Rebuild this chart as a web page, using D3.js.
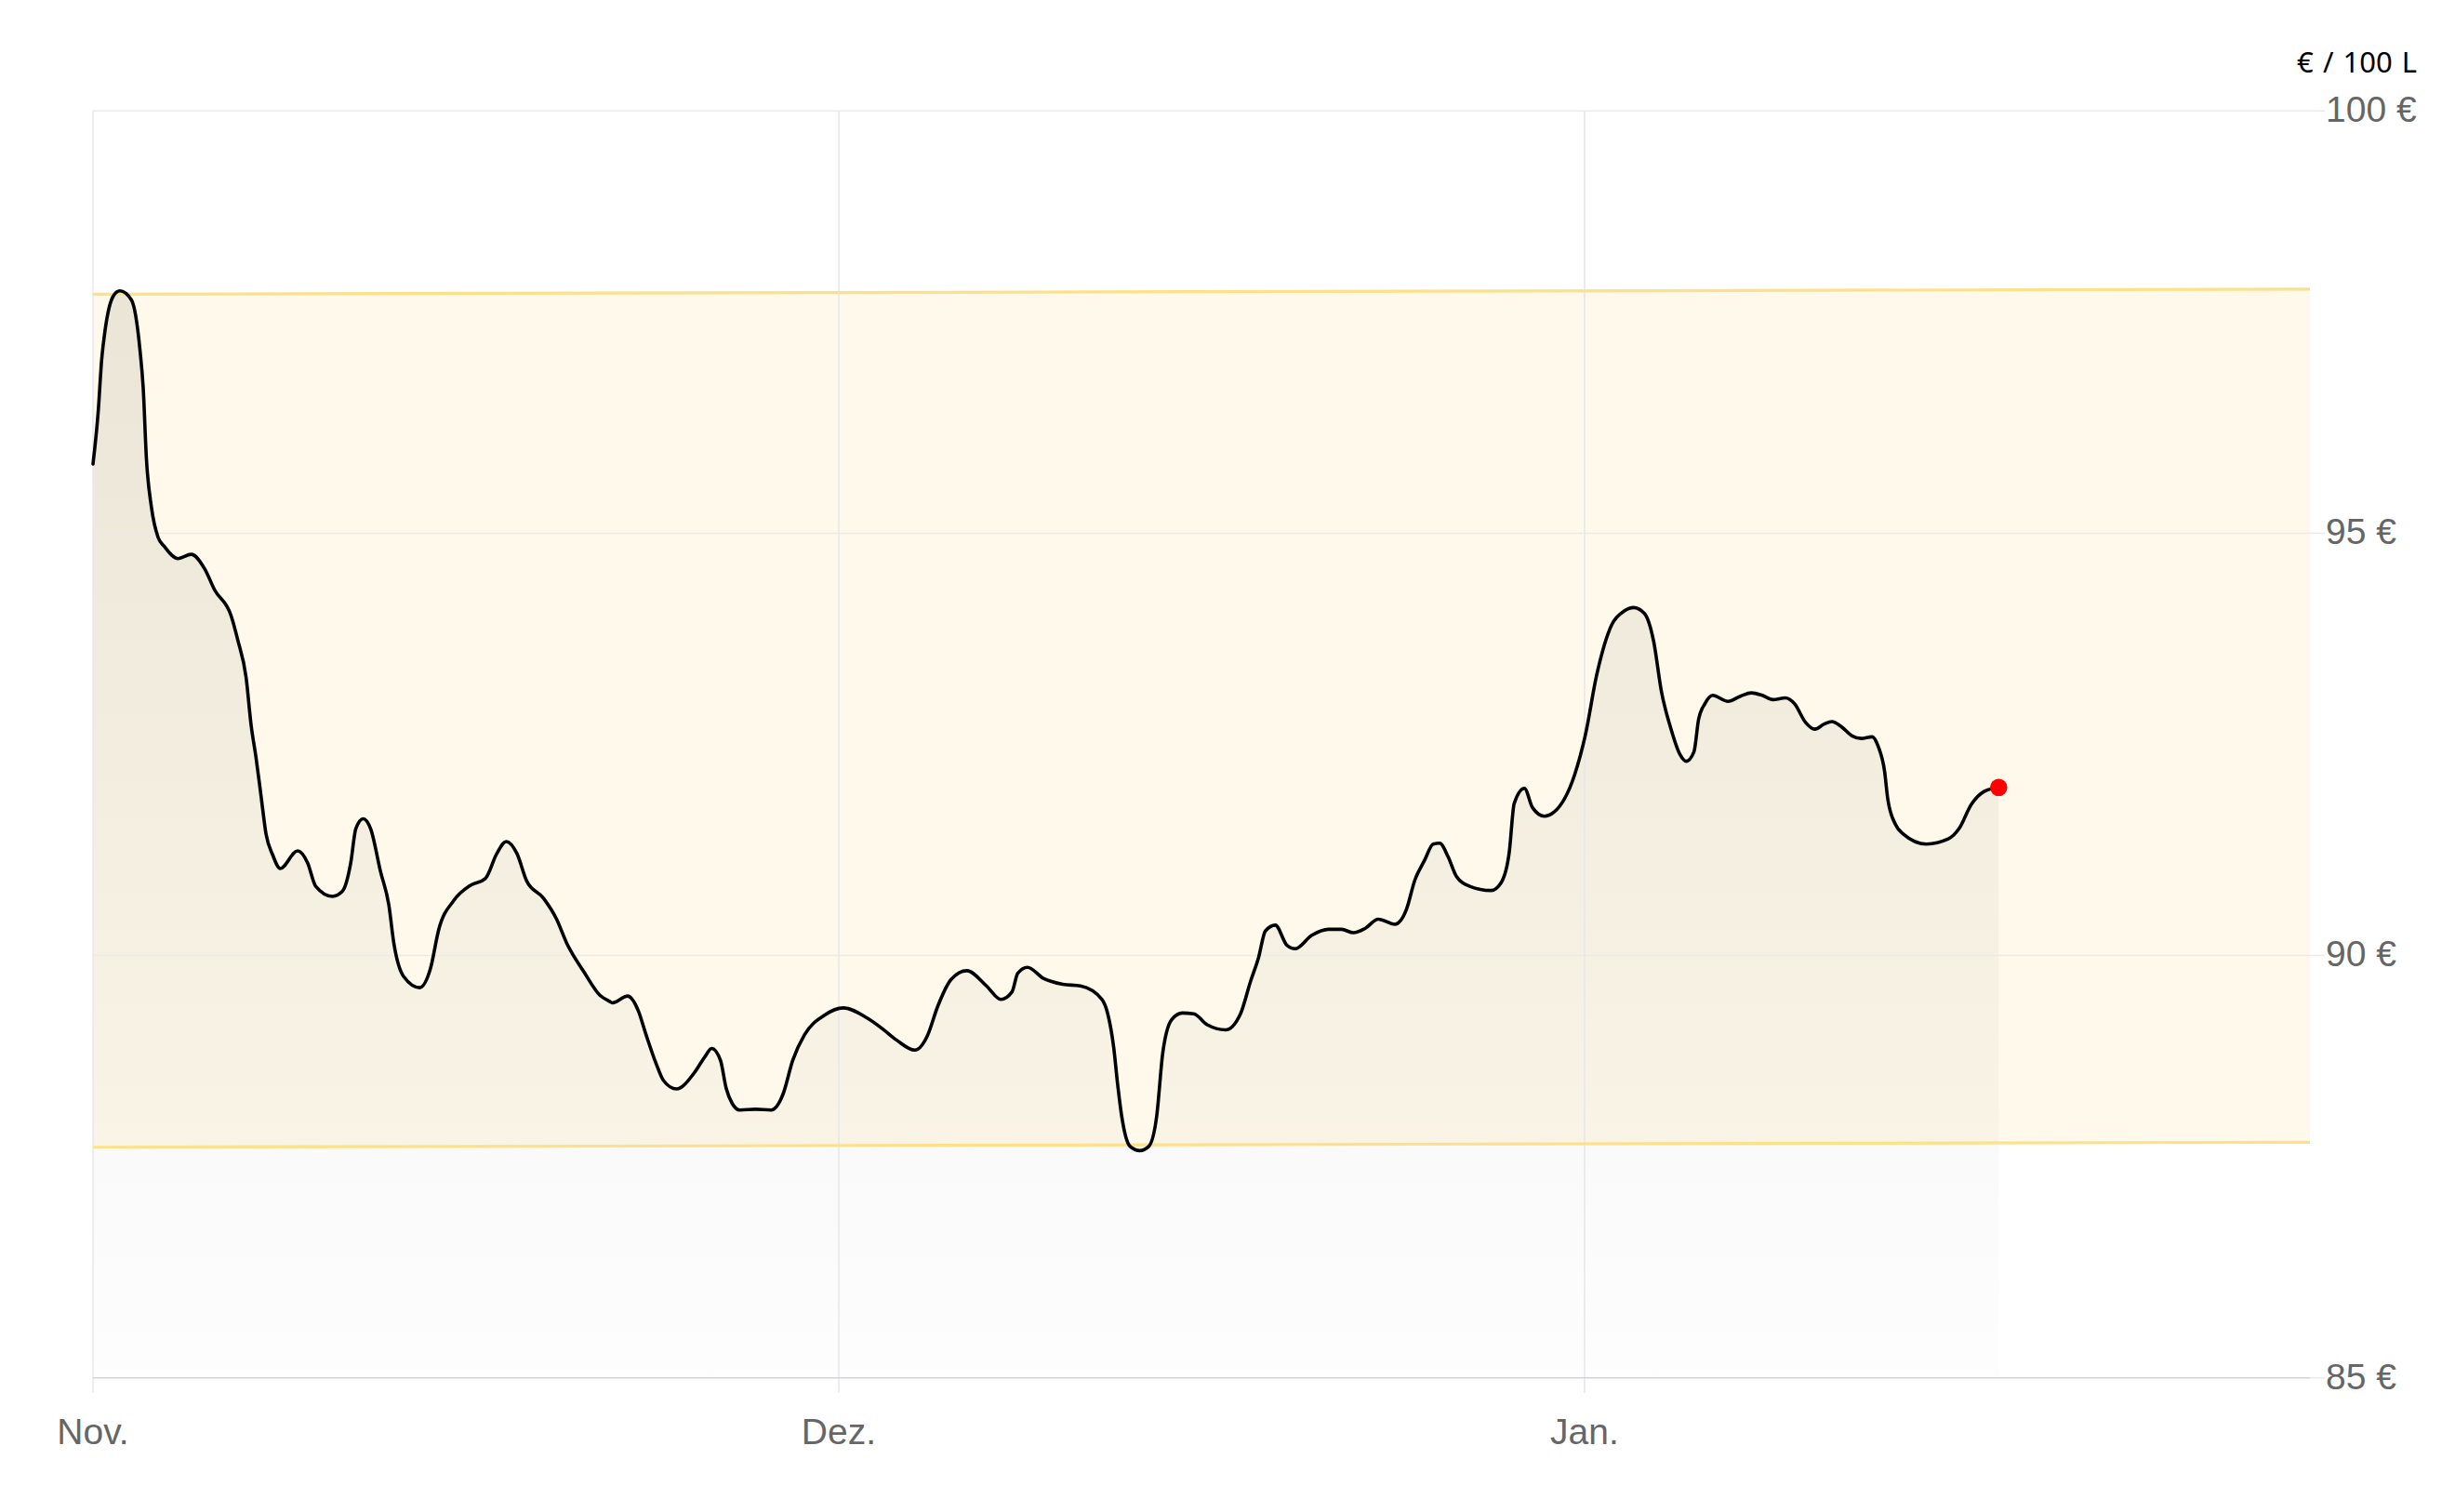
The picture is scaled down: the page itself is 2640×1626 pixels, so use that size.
<!DOCTYPE html>
<html>
<head>
<meta charset="utf-8">
<script src="https://cdn.jsdelivr.net/npm/d3@7"></script>
<style>
  html, body { margin: 0; padding: 0; background: #ffffff; }
  svg { display: block; }
</style>
</head>
<body>
<div id="chart"></div>
<script>
// ---- data (day index since 1 Nov, price in EUR per 100 L) ----
const days = [
  0,0.21,0.35,0.48,0.82,1.08,1.55,1.89,2.02,2.15,2.35,2.62,2.88,3.42,3.95,4.49,4.89,5.56,5.82,6.16,
  6.36,6.56,6.76,6.96,7.23,7.53,8.23,8.63,8.96,9.63,10.03,10.37,10.57,10.87,11.17,11.57,11.90,12.10,12.50,13.14,
  13.57,13.91,14.51,15.18,15.78,16.25,16.62,17.05,17.45,18.12,18.65,19.05,19.74,20.39,20.76,20.90,21.51,21.93,22.25,22.64,
  22.95,23.47,24.21,24.61,24.89,25.24,25.47,25.71,26.02,26.65,27.28,27.76,28.15,28.62,29.41,30.19,31.14,31.77,32.32,33.06,
  33.58,33.97,34.53,35.15,35.94,36.52,36.97,37.20,37.59,38.23,39.01,39.72,40.59,40.82,41.06,41.22,41.38,41.72,42.11,42.47,
  42.79,43.03,43.39,43.82,44.28,44.82,45.56,46.16,46.56,46.89,47.16,47.56,48.03,48.36,49.03,49.70,50.23,50.70,51.17,51.70,
  52.37,52.84,53.17,53.57,53.91,54.17,54.51,54.84,55.38,56.24,56.64,56.97,57.17,57.58,57.91,58.38,58.78,59.60,60.04,60.48,
  61.10,61.60,61.97,62.41,62.78,63.09,63.47,63.84,64.09,64.40,64.59,64.84,65.15,65.77,66.27,66.71,67.15,67.58,68.08,68.45,
  68.89,69.26,69.64,69.95,70.33,70.76,71.13,71.57,71.82,72.07,72.20,72.51,72.82,73.75,74.63,75.06,75.56,76.06,76.66
];
const prices = [
  95.82,96.44,97.06,97.39,97.81,97.87,97.76,97.17,96.72,95.88,95.31,94.95,94.84,94.70,94.75,94.58,94.33,94.02,93.74,93.29,
  92.73,92.34,91.89,91.44,91.19,91.03,91.24,91.10,90.82,90.70,90.76,91.10,91.50,91.62,91.50,90.99,90.60,90.15,89.75,89.62,
  89.84,90.31,90.65,90.83,90.91,91.21,91.35,91.21,90.88,90.68,90.43,90.15,89.81,89.53,89.46,89.44,89.52,89.35,89.06,88.73,
  88.52,88.42,88.62,88.80,88.90,88.76,88.43,88.25,88.17,88.18,88.17,88.36,88.76,89.06,89.29,89.38,89.26,89.13,89.00,88.88,
  89.06,89.39,89.72,89.82,89.64,89.48,89.57,89.79,89.86,89.73,89.66,89.64,89.48,89.31,88.91,88.47,88.10,87.74,87.69,87.74,
  88.10,88.84,89.24,89.32,89.31,89.18,89.12,89.31,89.69,89.98,90.29,90.36,90.12,90.08,90.24,90.31,90.31,90.27,90.32,90.43,
  90.37,90.55,90.89,91.13,91.32,91.33,91.17,90.94,90.82,90.77,90.86,91.22,91.80,91.98,91.75,91.65,91.70,92.14,92.62,93.31,
  93.92,94.08,94.12,94.05,93.72,93.13,92.69,92.38,92.30,92.41,92.80,92.98,93.08,93.01,93.07,93.11,93.08,93.03,93.05,92.98,
  92.76,92.68,92.74,92.77,92.71,92.60,92.57,92.59,92.47,92.18,91.85,91.55,91.44,91.32,91.38,91.50,91.79,91.94,91.99
];
// price range band (low / high) at start and end of the period
const bandDays = [0, 89.18];
const bandLow  = [87.73, 87.79];
const bandHigh = [97.83, 97.89];
// axes
const xTickDays   = [0, 30, 60];
const xTickLabels = ["Nov.", "Dez.", "Jan."];
const yTicks      = [85, 90, 95, 100];
const yDomain     = [85, 100];
const xDomain     = [0, 89.18];
const unitLabel   = "€ / 100 L";

// ---- layout ----
const W = 2640, H = 1626;
const plot = { left: 100, right: 2484, top: 119.3, bottom: 1481.7, gridRight: 2500 };

const svg = d3.select("#chart").append("svg")
  .attr("width", W).attr("height", H)
  .attr("viewBox", `0 0 ${W} ${H}`);

const x = d3.scaleLinear().domain(xDomain).range([plot.left, plot.right]);
const y = d3.scaleLinear().domain(yDomain).range([plot.bottom, plot.top]);

const series = days.map((d, i) => ({ d, v: prices[i] }));
const band = bandDays.map((d, i) => ({ d, lo: bandLow[i], hi: bandHigh[i] }));

// gradient for area
const defs = svg.append("defs");
const grad = defs.append("linearGradient")
  .attr("id", "areaGrad").attr("gradientUnits", "userSpaceOnUse")
  .attr("x1", 0).attr("x2", 0)
  .attr("y1", y(d3.max(prices))).attr("y2", plot.bottom);
grad.append("stop").attr("offset", "0%").attr("stop-color", "#6f6a60").attr("stop-opacity", 0.14);
grad.append("stop").attr("offset", "100%").attr("stop-color", "#7a7a7a").attr("stop-opacity", 0.012);

// band fill
svg.append("path")
  .datum(band)
  .attr("d", d3.area().x(d => x(d.d)).y0(d => y(d.lo)).y1(d => y(d.hi)))
  .attr("fill", "#fef9ea");

// area under the line
svg.append("path")
  .datum(series)
  .attr("d", d3.area().curve(d3.curveMonotoneX).x(d => x(d.d)).y0(y(yDomain[0])).y1(d => y(d.v)))
  .attr("fill", "url(#areaGrad)");

// horizontal gridlines
svg.append("g").selectAll("line")
  .data(yTicks.filter(t => t !== yDomain[0]))
  .join("line")
  .attr("x1", plot.left).attr("x2", plot.gridRight)
  .attr("y1", d => y(d)).attr("y2", d => y(d))
  .attr("stroke", "#e9e9ee").attr("stroke-width", 1.5);

// vertical gridlines
svg.append("g").selectAll("line")
  .data(xTickDays)
  .join("line")
  .attr("x1", d => x(d)).attr("x2", d => x(d))
  .attr("y1", plot.top).attr("y2", plot.bottom + 16)
  .attr("stroke", "#e7e7ec").attr("stroke-width", 1.5);

// bottom axis line
svg.append("line")
  .attr("x1", plot.right).attr("x2", plot.gridRight)
  .attr("y1", y(yDomain[0])).attr("y2", y(yDomain[0]))
  .attr("stroke", "#e9e9ee").attr("stroke-width", 1.5);
svg.append("line")
  .attr("x1", plot.left).attr("x2", plot.right)
  .attr("y1", y(yDomain[0])).attr("y2", y(yDomain[0]))
  .attr("stroke", "#d3d3d8").attr("stroke-width", 1.5);

// band edges
const edge = key => d3.line().x(d => x(d.d)).y(d => y(d[key]));
svg.append("path").datum(band).attr("d", edge("hi"))
  .attr("fill", "none").attr("stroke", "#fde08a").attr("stroke-width", 3.2);
svg.append("path").datum(band).attr("d", edge("lo"))
  .attr("fill", "none").attr("stroke", "#fde08a").attr("stroke-width", 3.2);

// price line
svg.append("path")
  .datum(series)
  .attr("d", d3.line().curve(d3.curveMonotoneX).x(d => x(d.d)).y(d => y(d.v)))
  .attr("fill", "none").attr("stroke", "#000").attr("stroke-width", 3.6)
  .attr("stroke-linejoin", "round").attr("stroke-linecap", "round");

// last point
const last = series[series.length - 1];
svg.append("circle")
  .attr("cx", x(last.d)).attr("cy", y(last.v)).attr("r", 9.3)
  .attr("fill", "#ff0000");

// y labels
svg.append("g").selectAll("text")
  .data(yTicks)
  .join("text")
  .attr("x", plot.gridRight + 1)
  .attr("y", d => y(d) + 11.8)
  .attr("font-family", "Liberation Sans, Arial, sans-serif")
  .attr("font-size", 39)
  .attr("fill", "#666666")
  .text(d => `${d} €`);

// x labels
svg.append("g").selectAll("text")
  .data(xTickDays)
  .join("text")
  .attr("x", d => x(d))
  .attr("y", 1553)
  .attr("text-anchor", "middle")
  .attr("font-family", "Liberation Sans, Arial, sans-serif")
  .attr("font-size", 39)
  .attr("fill", "#666666")
  .text((d, i) => xTickLabels[i]);

// unit label
svg.append("text")
  .attr("x", 2599).attr("y", 78)
  .attr("text-anchor", "end")
  .attr("font-family", "Noto Sans, Open Sans, sans-serif")
  .attr("font-size", 31)
  .attr("word-spacing", 2)
  .attr("fill", "#000")
  .text(unitLabel);
</script>
</body>
</html>
